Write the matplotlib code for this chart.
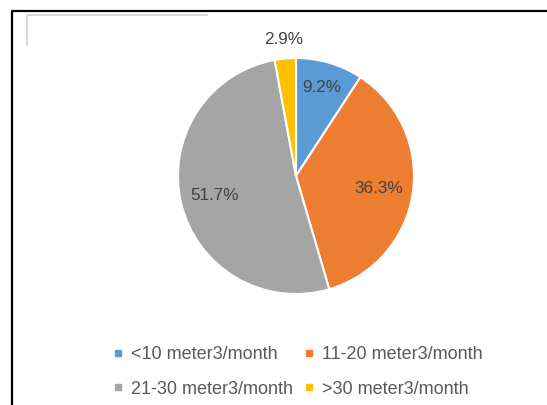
import matplotlib
matplotlib.use("Agg")
import matplotlib.pyplot as plt
from matplotlib.lines import Line2D
import numpy as np

categories = ["<10 meter3/month", "11-20 meter3/month", "21-30 meter3/month", ">30 meter3/month"]
values = [9.2, 36.3, 51.7, 2.9]
labels = ["9.2%", "36.3%", "51.7%", "2.9%"]
colors = ["#5B9BD5", "#ED7D31", "#A5A5A5", "#FFC000"]
label_dist = [0.78, 0.71, 0.71, 1.16]

plt.rcParams['font.family'] = ['Liberation Sans', 'DejaVu Sans']

W, H = 547, 405
fig = plt.figure(figsize=(W / 100, H / 100), dpi=100)

cx, cy, r = 296, 176, 118
ax = fig.add_axes([(cx - r) / W, (H - cy - r) / H, 2 * r / W, 2 * r / H])
wedges, _ = ax.pie(values, colors=colors, startangle=90, counterclock=False,
                   radius=1.0, wedgeprops=dict(edgecolor="white", linewidth=1.5))
ax.set_xlim(-1, 1)
ax.set_ylim(-1, 1)
ax.set_aspect("equal")
ax.axis("off")

for w, lab, d in zip(wedges, labels, label_dist):
    ang = np.deg2rad((w.theta1 + w.theta2) / 2)
    ax.text(d * np.cos(ang), d * np.sin(ang), lab, ha="center", va="center",
            fontsize=12.3, color="#404040", clip_on=False)

handles = [Line2D([], [], marker="s", linestyle="none", markersize=5,
                  markerfacecolor=c, markeredgecolor=c) for c in colors]
order = [0, 2, 1, 3]  # row-major layout for a 2-column legend
fig.legend([handles[i] for i in order], [categories[i] for i in order], ncol=2,
           loc="center", bbox_to_anchor=(298 / W, 1 - 372 / H),
           frameon=False, fontsize=13, labelcolor="#595959", handlelength=0.5,
           handletextpad=0.5, columnspacing=0.6, labelspacing=0.95)

# frame lines
def fl(xs, ys, **kw):
    fig.add_artist(Line2D([x / W for x in xs], [1 - y / H for y in ys],
                          transform=fig.transFigure, **kw))

fl([12, 12, W], [H, 10.5, 10.5], color="black", linewidth=1.6, solid_capstyle="projecting")
fl([27, 27, 207], [45, 15, 15], color="#d0d0d0", linewidth=1.2)

fig.savefig("out.png", dpi=100)
